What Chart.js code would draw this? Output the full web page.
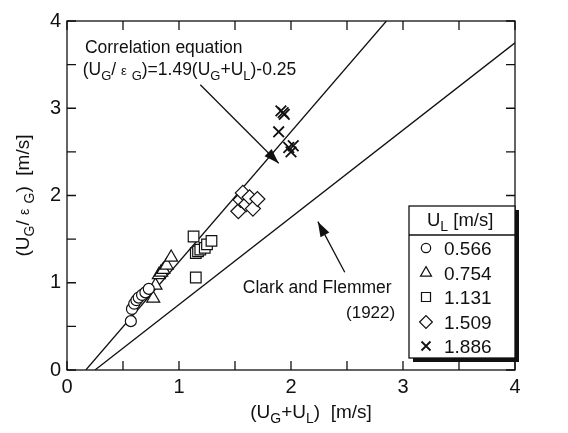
<!DOCTYPE html>
<html><head><meta charset="utf-8">
<script src="https://cdn.jsdelivr.net/npm/chart.js@4/dist/chart.umd.min.js"></script>
<style>html,body{margin:0;padding:0;background:#fff;}</style>
</head><body>
<canvas id="c" width="568" height="433" style="width:568px;height:433px;display:block"></canvas>
<script>
const FONT = '"Liberation Sans", Arial, Helvetica, sans-serif';

// ---- data ----
const seriesLabels = ['0.566', '0.754', '1.131', '1.509', '1.886'];
const circleX = [0.57, 0.58, 0.60, 0.62, 0.64, 0.67, 0.70, 0.73];
const circleY = [0.56, 0.70, 0.76, 0.80, 0.83, 0.86, 0.89, 0.93];
const triX    = [0.77, 0.79, 0.82, 0.84, 0.86, 0.89, 0.93];
const triY    = [0.82, 0.97, 1.09, 1.12, 1.15, 1.20, 1.29];
const sqX     = [1.13, 1.15, 1.15, 1.17, 1.19, 1.23, 1.25, 1.29];
const sqY     = [1.53, 1.06, 1.34, 1.36, 1.38, 1.40, 1.44, 1.48];
const diaX    = [1.53, 1.55, 1.57, 1.60, 1.63, 1.66, 1.70];
const diaY    = [1.82, 1.95, 2.03, 1.90, 1.98, 1.85, 1.96];
const crossX  = [1.89, 1.91, 1.93, 1.94, 1.98, 2.00, 2.02];
const crossY  = [2.73, 2.97, 2.95, 2.93, 2.55, 2.50, 2.57];
// correlation line (UG/eG)=1.49(UG+UL)-0.25, end points within frame
const corrLineX = [0.168, 2.852];
const corrLineY = [0, 4];
// Clark and Flemmer line
const clarkLineX = [0.25, 4];
const clarkLineY = [0, 3.75];
const xTicks = [0, 1, 2, 3, 4];
const yTicks = [0, 1, 2, 3, 4];
const minorStep = 0.5;

const zip = (xs, ys) => xs.map((x, i) => ({x, y: ys[i]}));

const styles = [
  {pointStyle: 'circle',   r: 5.5, bw: 1.2},
  {pointStyle: 'triangle', r: 7.5, bw: 1.2},
  {pointStyle: 'rect',     r: 7.5, bw: 1.2},
  {pointStyle: 'rectRot',  r: 7.5, bw: 1.2},
  {pointStyle: 'crossRot', r: 7.5, bw: 1.8}
];
const seriesData = [zip(circleX, circleY), zip(triX, triY), zip(sqX, sqY), zip(diaX, diaY), zip(crossX, crossY)];

const datasets = [
  {type: 'line', data: zip(corrLineX, corrLineY), borderColor: '#111', borderWidth: 1.3, pointRadius: 0, showLine: true, fill: false, order: 10},
  {type: 'line', data: zip(clarkLineX, clarkLineY), borderColor: '#111', borderWidth: 1.3, pointRadius: 0, showLine: true, fill: false, order: 10}
];
seriesData.forEach((d, i) => {
  datasets.push({
    label: seriesLabels[i], data: d,
    pointStyle: styles[i].pointStyle, pointRadius: styles[i].r, pointHoverRadius: styles[i].r,
    borderColor: '#111', backgroundColor: '#fff', pointBorderWidth: styles[i].bw, borderWidth: styles[i].bw,
    showLine: false, order: 1
  });
});

function drawRich(ctx, parts, x, y, size, align) {
  // parts: [text, kind] kind: 0 normal, 1 subscript, 2 small
  const fontFor = k => (k === 0 ? size : Math.round(size * 0.76)) + 'px ' + FONT;
  let total = 0;
  parts.forEach(p => { ctx.font = fontFor(p[1]); total += ctx.measureText(p[0]).width; });
  let cx = align === 'center' ? x - total / 2 : (align === 'right' ? x - total : x);
  ctx.textAlign = 'left';
  ctx.textBaseline = 'alphabetic';
  parts.forEach(p => {
    ctx.font = fontFor(p[1]);
    const dy = p[1] === 1 ? size * 0.28 : 0;
    ctx.fillText(p[0], cx, y + dy);
    cx += ctx.measureText(p[0]).width;
  });
}

function arrow(ctx, x1, y1, x2, y2) {
  ctx.beginPath(); ctx.moveTo(x1, y1); ctx.lineTo(x2, y2); ctx.stroke();
  const a = Math.atan2(y2 - y1, x2 - x1), L = 15, W = 5;
  ctx.beginPath();
  ctx.moveTo(x2, y2);
  ctx.lineTo(x2 - L * Math.cos(a) + W * Math.sin(a), y2 - L * Math.sin(a) - W * Math.cos(a));
  ctx.lineTo(x2 - L * Math.cos(a) - W * Math.sin(a), y2 - L * Math.sin(a) + W * Math.cos(a));
  ctx.closePath(); ctx.fill();
}

const decor = {
  id: 'decor',
  afterDatasetsDraw(chart) {
    const {ctx, chartArea: a, scales: {x, y}} = chart;
    ctx.save();
    ctx.strokeStyle = '#111'; ctx.fillStyle = '#111'; ctx.lineWidth = 1.3;
    // frame
    ctx.strokeRect(a.left, a.top, a.right - a.left, a.bottom - a.top);
    // inward ticks every 0.5
    const tl = 9;
    for (let v = 0; v <= 4.0001; v += minorStep) {
      const px = x.getPixelForValue(v), py = y.getPixelForValue(v);
      ctx.beginPath();
      ctx.moveTo(px, a.bottom); ctx.lineTo(px, a.bottom - tl);
      ctx.moveTo(px, a.top); ctx.lineTo(px, a.top + tl);
      ctx.moveTo(a.left, py); ctx.lineTo(a.left + tl, py);
      ctx.moveTo(a.right, py); ctx.lineTo(a.right - tl, py);
      ctx.stroke();
    }
    // annotations
    ctx.fillStyle = '#111';
    drawRich(ctx, [['Correlation equation', 0]], x.getPixelForValue(0.16), y.getPixelForValue(3.63), 17.5, 'left');
    drawRich(ctx, [['(U', 0], ['G', 1], ['/ ', 0], ['\u03b5', 2], [' ', 0], ['G', 1], [')=1.49(U', 0], ['G', 1], ['+U', 0], ['L', 1], [')-0.25', 0]],
      x.getPixelForValue(0.14), y.getPixelForValue(3.38), 17.5, 'left');
    drawRich(ctx, [['Clark and Flemmer', 0]], x.getPixelForValue(1.57), y.getPixelForValue(0.88), 17.5, 'left');
    drawRich(ctx, [['(1922)', 0]], x.getPixelForValue(2.93), y.getPixelForValue(0.6), 17, 'right');
    ctx.lineWidth = 1.3;
    arrow(ctx, x.getPixelForValue(1.19), y.getPixelForValue(3.27), x.getPixelForValue(1.89), y.getPixelForValue(2.37));
    arrow(ctx, x.getPixelForValue(2.48), y.getPixelForValue(1.12), x.getPixelForValue(2.24), y.getPixelForValue(1.70));
    // axis titles
    drawRich(ctx, [['(U', 0], ['G', 1], ['+U', 0], ['L', 1], [')  [m/s]', 0]], (a.left + a.right) / 2 + 20, 418, 19, 'center');
    ctx.save();
    ctx.translate(29, (a.top + a.bottom) / 2);
    ctx.rotate(-Math.PI / 2);
    drawRich(ctx, [['(U', 0], ['G', 1], ['/ ', 0], ['\u03b5', 2], [' ', 0], ['G', 1], [')  [m/s]', 0]], 0, 0, 19, 'center');
    ctx.restore();
    // legend box
    const L = 409, T = 206, R = 515, B = 358;
    ctx.fillStyle = '#111';
    ctx.fillRect(L + 4, B, R - L, 4);
    ctx.fillRect(R, T + 4, 4, B - T);
    ctx.fillStyle = '#fff';
    ctx.fillRect(L, T, R - L, B - T);
    ctx.strokeStyle = '#111'; ctx.lineWidth = 1.3;
    ctx.strokeRect(L, T, R - L, B - T);
    ctx.beginPath(); ctx.moveTo(L, 235); ctx.lineTo(R, 235); ctx.stroke();
    ctx.fillStyle = '#111';
    drawRich(ctx, [['U', 0], ['L', 1], [' [m/s]', 0]], 427, 226, 18.5, 'left');
    const rows = [248, 273, 297, 322, 346];
    rows.forEach((ry, i) => {
      ctx.fillStyle = '#fff'; ctx.strokeStyle = '#111'; ctx.lineWidth = styles[i].bw;
      Chart.helpers.drawPoint(ctx, {pointStyle: styles[i].pointStyle, radius: styles[i].r * 0.85, rotation: 0, borderWidth: styles[i].bw}, 426, ry);
      ctx.fillStyle = '#111';
      drawRich(ctx, [[seriesLabels[i], 0]], 444, ry + 7, 19, 'left');
    });
    ctx.restore();
  }
};

new Chart(document.getElementById('c'), {
  type: 'scatter',
  data: {datasets},
  options: {
    responsive: false, devicePixelRatio: 1, animation: false,
    layout: {padding: {left: 0, right: 53, top: 21, bottom: 0}},
    plugins: {legend: {display: false}, tooltip: {enabled: false}},
    scales: {
      x: {
        type: 'linear', min: 0, max: 4,
        afterFit: s => { s.height = 63; },
        afterBuildTicks: s => { s.ticks = xTicks.map(v => ({value: v})); },
        grid: {display: false, drawTicks: false}, border: {display: false},
        ticks: {font: {family: FONT, size: 20}, color: '#111', padding: 5, maxRotation: 0}
      },
      y: {
        type: 'linear', min: 0, max: 4,
        afterFit: s => { s.width = 67; },
        afterBuildTicks: s => { s.ticks = yTicks.map(v => ({value: v})); },
        grid: {display: false, drawTicks: false}, border: {display: false},
        ticks: {font: {family: FONT, size: 20}, color: '#111', padding: 6}
      }
    }
  },
  plugins: [decor]
});
</script>
</body></html>
